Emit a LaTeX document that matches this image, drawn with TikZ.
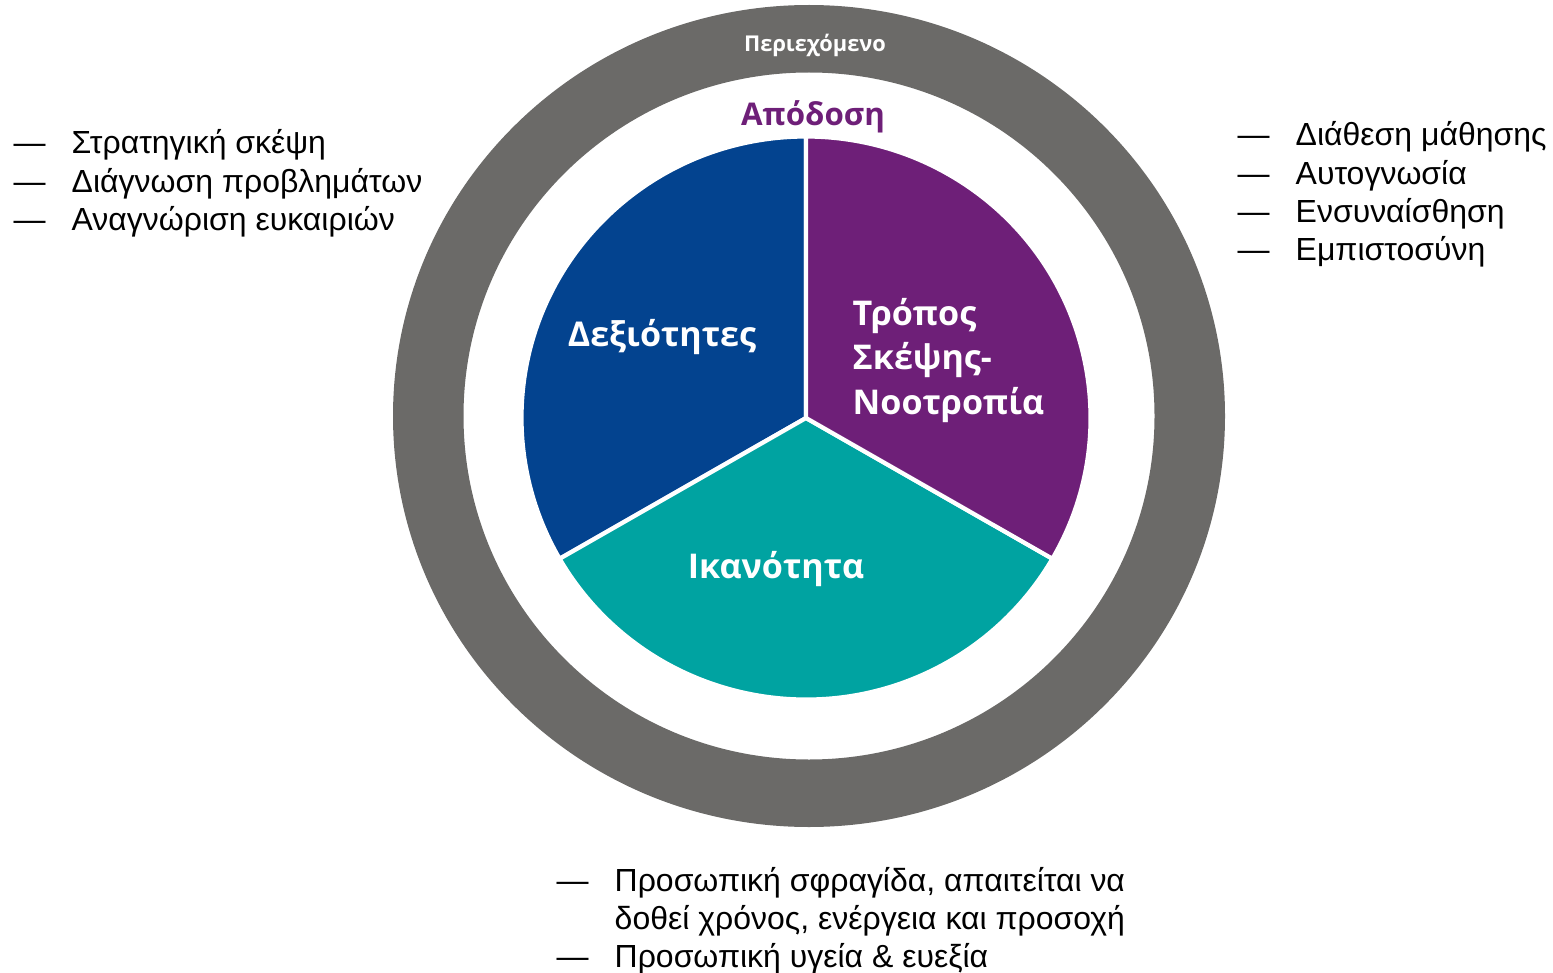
\documentclass[tikz,border=0pt]{standalone}
\usepackage{fontspec}
\setmainfont{Liberation Sans}
\newfontfamily\headfont{Open Sans}
\usetikzlibrary{positioning}

\definecolor{ringgray}{HTML}{6B6A68}
\definecolor{skillblue}{HTML}{03438F}
\definecolor{mindpurple}{HTML}{6E1F78}
\definecolor{abilityteal}{HTML}{00A3A1}

\tikzset{
    slice/.style={draw=white, line width=1.2pt, line join=round},
    listtext/.style={inner sep=0pt, anchor=base west, font=\fontsize{9.1}{10.85}\selectfont},
    headtext/.style={inner sep=0pt, text=white, font=\headfont\bfseries\fontsize{9.7}{12.6}\selectfont}
}
\newcommand{\listdash}{\makebox[0.58cm][l]{—}}

\begin{document}
\begin{tikzpicture}
    \useasboundingbox (0, 0) rectangle (15.53, -9.73);

    % outer ring
    \coordinate (ringc) at (8.09, -4.16);
    \fill[ringgray, even odd rule] (ringc) ellipse [x radius=4.16, y radius=4.11]
        (ringc) ellipse [x radius=3.455, y radius=3.435];

    % pie
    \coordinate (c) at (8.06, -4.18);
    \filldraw[slice, fill=skillblue] (c) -- ++(90:2.845 and 2.815)
        arc [start angle=90, end angle=210, x radius=2.845, y radius=2.815] -- cycle;
    \filldraw[slice, fill=abilityteal] (c) -- ++(210:2.845 and 2.815)
        arc [start angle=210, end angle=330, x radius=2.845, y radius=2.815] -- cycle;
    \filldraw[slice, fill=mindpurple] (c) -- ++(330:2.845 and 2.815)
        arc [start angle=330, end angle=450, x radius=2.845, y radius=2.815] -- cycle;

    % labels
    \node[headtext, anchor=base, font=\headfont\bfseries\fontsize{6.2}{7}\selectfont] (context) at (8.15, -0.52) {Περιεχόμενο};
    \node[headtext, anchor=base, text=mindpurple, font=\headfont\bfseries\fontsize{8.9}{10}\selectfont] (performance) at (8.13, -1.26) {Απόδοση};
    \node[headtext, anchor=base] (skills) at (6.62, -3.47) {Δεξιότητες};
    \node[headtext, anchor=base] (ability) at (7.76, -5.78) {Ικανότητα};
    \node[headtext, anchor=base west, align=left] (mindset) at (8.52, -4.14)
        {Τρόπος\\Σκέψης-\\Νοοτροπία};

    % lists
    \node[listtext] (skilllist) at (0.13, -1.54)
        {\begin{tabular}[t]{@{}l@{}}
            \listdash Στρατηγική σκέψη\\
            \listdash Διάγνωση προβλημάτων\\
            \listdash Αναγνώριση ευκαιριών
        \end{tabular}};
    \node[listtext] (mindlist) at (12.37, -1.46)
        {\begin{tabular}[t]{@{}l@{}}
            \listdash Διάθεση μάθησης\\
            \listdash Αυτογνωσία\\
            \listdash Ενσυναίσθηση\\
            \listdash Εμπιστοσύνη
        \end{tabular}};
    \node[listtext] (abilitylist) at (5.56, -8.91)
        {\begin{tabular}[t]{@{}l@{}}
            \listdash Προσωπική σφραγίδα, απαιτείται να\\
            \hspace{0.58cm}δοθεί χρόνος, ενέργεια και προσοχή\\
            \listdash Προσωπική υγεία \& ευεξία
        \end{tabular}};
\end{tikzpicture}
\end{document}
